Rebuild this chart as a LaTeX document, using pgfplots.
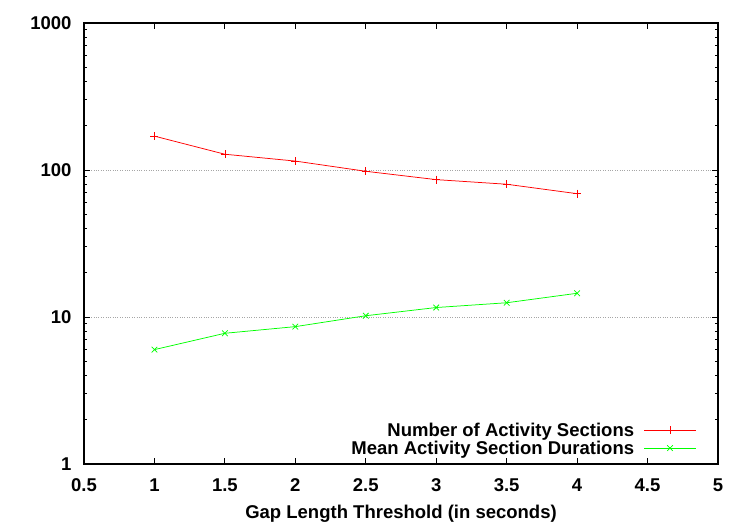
\documentclass[border=0pt]{standalone}
\usepackage{pgfplots}
\pgfplotsset{compat=1.18}
\usepackage{fontspec}
\setmainfont{Liberation Sans}
\begin{document}
\begin{tikzpicture}
\useasboundingbox (-84bp,-61bp) rectangle (666bp,464bp);
\begin{axis}[
    scale only axis,
    width=634bp, height=441bp,
    ymode=log,
    xmin=0.5, xmax=5,
    ymin=1, ymax=1000,
    xtick={0.5,1,...,5},
    ytick={1,10,100,1000},
    yticklabels={1,10,100,1000},
    xticklabel style={/pgf/number format/fixed, yshift=-11bp},
    yticklabel style={xshift=-9bp},
    /pgf/number format/assume math mode=true,
    tick label style={font=\fontsize{18.5bp}{20bp}\selectfont\bfseries},
    xlabel={Gap Length Threshold (in seconds)},
    xlabel style={font=\fontsize{18.5bp}{20bp}\selectfont\bfseries, yshift=-7bp},
    axis line style={line width=1.2pt},
    tick style={black, line width=0.8pt},
    major tick length=6bp,
    minor tick length=3bp,
    tick align=inside,
    ymajorgrids,
    major grid style={gray!70, dotted, line width=0.6pt},
    legend cell align=right,
    legend plot pos=right,
    legend style={draw=none, fill=none, at={(axis description cs:0.967,0.012)}, anchor=south east,
        font=\fontsize{18.5bp}{20bp}\selectfont\bfseries, row sep=-1bp, inner sep=1bp,
        /tikz/every odd column/.append style={column sep=8bp}},
    legend image code/.code={\draw[mark repeat=2,mark phase=2] plot coordinates {(0cm,0cm)(0.9cm,0cm)(1.8cm,0cm)};},
]
\addplot[red, mark=+, mark size=4bp, line width=0.75pt, mark options={red, solid}] coordinates {
    (1,170) (1.5,128) (2,115) (2.5,98) (3,86) (3.5,80) (4,69)
};
\addlegendentry{Number of Activity Sections}
\addplot[green, mark=x, mark size=4bp, line width=0.75pt, mark options={green, solid}] coordinates {
    (1,6.0) (1.5,7.75) (2,8.6) (2.5,10.2) (3,11.6) (3.5,12.5) (4,14.5)
};
\addlegendentry{Mean Activity Section Durations}
\end{axis}
\end{tikzpicture}
\end{document}
